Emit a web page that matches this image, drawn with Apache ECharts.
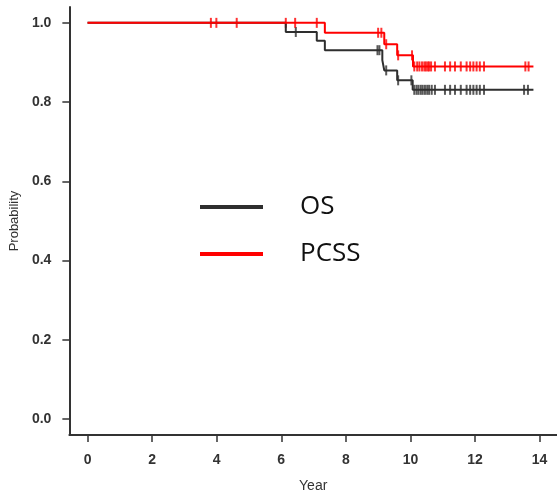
<!DOCTYPE html>
<html>
<head>
<meta charset="utf-8">
<script src="https://cdn.jsdelivr.net/npm/echarts@6/dist/echarts.min.js"></script>
<style>
  html, body { margin: 0; padding: 0; background: #fff; }
  #chart { width: 557px; height: 498px; }
</style>
</head>
<body>
<div id="chart"></div>
<script>
  // axis ticks
  const xTicks = [0, 2, 4, 6, 8, 10, 12, 14];
  const yTicks = [0, 0.2, 0.4, 0.6, 0.8, 1.0];

  // OS curve: step times and survival after each step (last point = end of follow-up)
  const osTimes = [0, 6.14, 7.10, 7.35, 9.13, 9.19, 9.59, 10.07, 13.81];
  const osSurv  = [1, 0.977, 0.955, 0.931, 0.906, 0.880, 0.855, 0.831, 0.831];
  const osCensor = [6.45, 8.98, 9.04, 9.25, 9.62, 10.03,
    10.12, 10.19, 10.25, 10.32, 10.38, 10.45, 10.52, 10.58, 10.66, 10.76,
    11.07, 11.23, 11.38, 11.56, 11.74, 11.85, 11.95, 12.05, 12.15, 12.28,
    13.52, 13.64];

  // PCSS curve
  const pcssTimes = [0, 7.35, 9.19, 9.59, 10.08, 13.81];
  const pcssSurv  = [1, 0.975, 0.946, 0.918, 0.890, 0.890];
  const pcssCensor = [3.82, 3.99, 4.62, 6.14, 6.43, 7.10, 9.00, 9.10, 9.25, 9.62, 10.05,
    10.12, 10.21, 10.28, 10.36, 10.43, 10.48, 10.54, 10.58, 10.64, 10.76,
    11.07, 11.23, 11.38, 11.56, 11.74, 11.85, 11.95, 12.05, 12.15, 12.28,
    13.56, 13.66];

  function steps(times, surv) {
    return times.map((t, i) => [t, surv[i]]);
  }
  // survival level at a censoring time
  function censorPoints(times, surv, cens) {
    return cens.map(c => {
      let s = surv[0];
      for (let i = 0; i < times.length; i++) {
        if (times[i] <= c) s = surv[i];
      }
      return [c, s];
    });
  }

  const black = '#2e2e2e';
  const red = '#ff0000';
  const axisFont = 'Liberation Sans, Arial, sans-serif';

  const chart = echarts.init(document.getElementById('chart'));
  chart.setOption({
    animation: false,
    backgroundColor: '#fff',
    grid: { left: 66, right: 0, top: 7, bottom: 60, containLabel: false },
    legend: {
      orient: 'vertical',
      left: 200,
      top: 194,
      padding: 0,
      itemWidth: 63,
      itemHeight: 4,
      itemGap: 21,
      icon: 'rect',
      selectedMode: false,
      data: ['OS', 'PCSS'],
      textStyle: {
        fontFamily: 'Open Sans',
        fontSize: 26,
        lineHeight: 26,
        color: '#111',
        padding: [0, 0, 0, 32]
      }
    },
    xAxis: {
      type: 'value',
      min: -0.563,
      max: 14.54,
      name: 'Year',
      nameLocation: 'middle',
      nameGap: 44,
      nameTextStyle: { fontFamily: axisFont, fontSize: 14, color: '#333' },
      splitLine: { show: false },
      axisLine: { show: true, onZero: false, lineStyle: { color: '#333', width: 2 } },
      axisTick: { show: true, length: 7, customValues: xTicks, lineStyle: { color: '#333', width: 1.5 } },
      axisLabel: {
        customValues: xTicks,
        margin: 18,
        fontFamily: axisFont,
        fontSize: 14,
        fontWeight: 'bold',
        color: '#333'
      }
    },
    yAxis: {
      type: 'value',
      min: -0.04,
      max: 1.04,
      name: 'Probability',
      nameLocation: 'middle',
      nameRotate: 90,
      nameGap: 44,
      nameTextStyle: { fontFamily: axisFont, fontSize: 13, color: '#333' },
      splitLine: { show: false },
      axisLine: { show: true, onZero: false, lineStyle: { color: '#333', width: 2 } },
      axisTick: { show: true, length: 7, customValues: yTicks, lineStyle: { color: '#333', width: 1.5 } },
      axisLabel: {
        customValues: yTicks,
        margin: 18,
        fontFamily: axisFont,
        fontSize: 14,
        fontWeight: 'bold',
        color: '#333',
        formatter: v => v.toFixed(1)
      }
    },
    series: [
      {
        name: 'OS',
        type: 'line',
        step: 'end',
        showSymbol: false,
        data: steps(osTimes, osSurv),
        itemStyle: { color: black },
        lineStyle: { color: black, width: 2 }
      },
      {
        name: 'OS',
        type: 'scatter',
        symbol: 'rect',
        symbolSize: [2, 10],
        data: censorPoints(osTimes, osSurv, osCensor),
        itemStyle: { color: black }
      },
      {
        name: 'PCSS',
        type: 'line',
        step: 'end',
        showSymbol: false,
        data: steps(pcssTimes, pcssSurv),
        itemStyle: { color: red },
        lineStyle: { color: red, width: 2 }
      },
      {
        name: 'PCSS',
        type: 'scatter',
        symbol: 'rect',
        symbolSize: [2, 10],
        data: censorPoints(pcssTimes, pcssSurv, pcssCensor),
        itemStyle: { color: red }
      }
    ]
  });
</script>
</body>
</html>
